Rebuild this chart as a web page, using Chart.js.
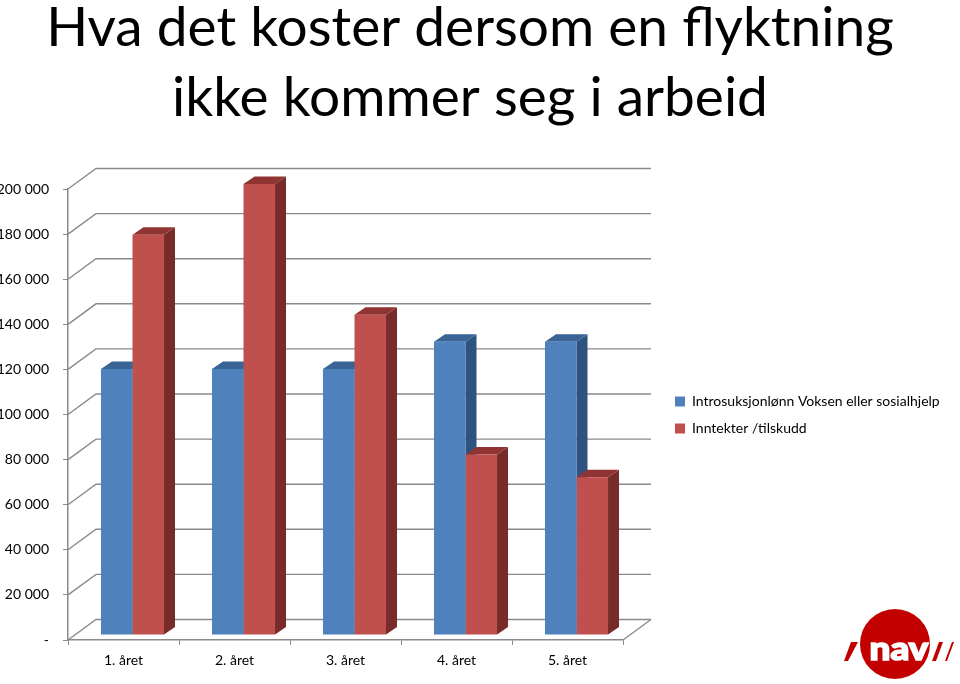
<!DOCTYPE html>
<html>
<head>
<meta charset="utf-8">
<script src="https://cdn.jsdelivr.net/npm/chart.js@4"></script>
<style>
    html, body { margin: 0; background: #fff; }
    canvas { display: block; }
</style>
</head>
<body>
<canvas id="chart" width="960" height="684"></canvas>
<script>
const categories = ['1. året', '2. året', '3. året', '4. året', '5. året'];
const introValues = [118000, 118000, 118000, 130000, 130000];
const incomeValues = [177500, 200000, 142000, 80000, 70000];
const yTickLabels = ['-', '20 000', '40 000', '60 000', '80 000', '100 000',
    '120 000', '140 000', '160 000', '180 000', '200 000'];
const titleLines = ['Hva det koster dersom en flyktning', 'ikke kommer seg i arbeid'];
const seriesNames = ['Introsuksjonlønn Voksen eller sosialhjelp', 'Inntekter /tilskudd'];

const FONT = 'Lato, Carlito, sans-serif';
const AXIS_COLOR = '#8a8a8a';

// how far the floor and the bars are pushed back to fake the 3d look
const wall = { dx: 28, dy: -20.5 };
const barShift = { dx: 9, dy: -5 };
const barDepth = { dx: 11, dy: -7.5 };

const shades = {
    '#4f81bd': { side: '#2f5380', top: '#3a6496' },
    '#c0504d': { side: '#772c2a', top: '#8f3432' }
};

function face(ctx, color, pts) {
    ctx.fillStyle = color;
    ctx.beginPath();
    pts.forEach((p, i) => i ? ctx.lineTo(p[0], p[1]) : ctx.moveTo(p[0], p[1]));
    ctx.closePath();
    ctx.fill();
}

const fake3d = {
    id: 'fake3d',
    afterLayout(chart) {
        // legend and title sit where the layout would not put them
        chart.legend.left = 662;
        chart.legend.right = 960;
        chart.legend.top += 73;
        chart.legend.bottom += 73;
        chart.titleBlock.right = 940;
    },
    beforeDatasetsDraw(chart) {
        const { ctx, scales, chartArea } = chart;
        ctx.save();
        ctx.strokeStyle = AXIS_COLOR;
        ctx.lineWidth = 1.4;
        scales.y.ticks.forEach((tick, i) => {
            const y = scales.y.getPixelForTick(i);
            ctx.beginPath();
            ctx.moveTo(chartArea.left, y);
            ctx.lineTo(chartArea.left + wall.dx, y + wall.dy);
            ctx.lineTo(chartArea.right + wall.dx, y + wall.dy);
            ctx.stroke();
        });
        // right edge of the floor
        ctx.beginPath();
        ctx.moveTo(chartArea.right, chartArea.bottom);
        ctx.lineTo(chartArea.right + wall.dx, chartArea.bottom + wall.dy);
        ctx.stroke();

        // side and top faces go first, fronts come from the library afterwards
        ctx.translate(barShift.dx, barShift.dy);
        chart.data.datasets.forEach((dataset, i) => {
            const colors = shades[dataset.backgroundColor];
            chart.getDatasetMeta(i).data.forEach(bar => {
                const { x, y, base, width } = bar.getProps(['x', 'y', 'base', 'width']);
                const r = x + width / 2;
                const l = x - width / 2;
                face(ctx, colors.side, [[r, y], [r + barDepth.dx, y + barDepth.dy],
                    [r + barDepth.dx, base + barDepth.dy], [r, base]]);
                face(ctx, colors.top, [[l, y], [l + barDepth.dx, y + barDepth.dy],
                    [r + barDepth.dx, y + barDepth.dy], [r, y]]);
            });
        });
        ctx.restore();
    },
    beforeDatasetDraw(chart) {
        chart.ctx.save();
        chart.ctx.translate(barShift.dx, barShift.dy);
    },
    afterDatasetDraw(chart) {
        chart.ctx.restore();
    },
    afterDraw(chart) {
        // nav logo in the corner
        const { ctx } = chart;
        ctx.save();
        ctx.fillStyle = '#c30000';
        ctx.beginPath();
        ctx.arc(895, 644, 35, 0, Math.PI * 2);
        ctx.fill();
        face(ctx, '#c30000', [[848, 661], [844, 661], [851, 642], [858, 642]]);
        face(ctx, '#c30000', [[932, 661], [936, 661], [943, 642], [939, 642]]);
        face(ctx, '#c30000', [[945, 661], [947, 661], [954, 642], [952, 642]]);
        ctx.fillStyle = '#fff';
        ctx.strokeStyle = '#fff';
        ctx.lineWidth = 1.5;
        ctx.font = '900 32px ' + FONT;
        ctx.textAlign = 'center';
        ctx.textBaseline = 'alphabetic';
        ctx.translate(899, 660);
        ctx.scale(1.15, 1);
        ctx.fillText('nav', 0, 0);
        ctx.strokeText('nav', 0, 0);
        ctx.restore();
    }
};

new Chart(document.getElementById('chart'), {
    type: 'bar',
    plugins: [fake3d],
    data: {
        labels: categories,
        datasets: [{
            label: seriesNames[0],
            data: introValues,
            backgroundColor: '#4f81bd',
            clip: false
        }, {
            label: seriesNames[1],
            data: incomeValues,
            backgroundColor: '#c0504d',
            clip: false
        }]
    },
    options: {
        responsive: false,
        animation: false,
        layout: { padding: { left: 0, right: 129.33, top: 0, bottom: 0 } },
        datasets: { bar: { categoryPercentage: 0.568, barPercentage: 1 } },
        plugins: {
            title: {
                display: true,
                text: titleLines,
                color: '#000',
                font: { family: FONT, size: 55, weight: 'normal', lineHeight: 1.273 },
                padding: { top: -7, bottom: 56 }
            },
            legend: {
                position: 'right',
                labels: {
                    color: '#000',
                    font: { family: FONT, size: 14 },
                    boxWidth: 10,
                    boxHeight: 10,
                    padding: 13
                }
            },
            tooltip: { enabled: false }
        },
        scales: {
            x: {
                afterFit(scale) { scale.height = 44; },
                grid: { color: AXIS_COLOR, drawOnChartArea: false, tickLength: 5, tickColor: AXIS_COLOR },
                border: { color: AXIS_COLOR, width: 1.5 },
                ticks: { color: '#000', font: { family: FONT, size: 14 }, padding: 7, maxRotation: 0 }
            },
            y: {
                min: 0,
                max: 200000,
                afterFit(scale) { scale.width = 68; },
                grid: { color: AXIS_COLOR, drawOnChartArea: false, tickLength: 5, tickColor: AXIS_COLOR },
                border: { color: AXIS_COLOR, width: 1.5 },
                ticks: {
                    stepSize: 20000,
                    autoSkip: false,
                    padding: 14,
                    color: '#000',
                    font: { family: FONT, size: 14 },
                    callback: (value, index) => yTickLabels[index]
                }
            }
        }
    }
});
</script>
</body>
</html>
